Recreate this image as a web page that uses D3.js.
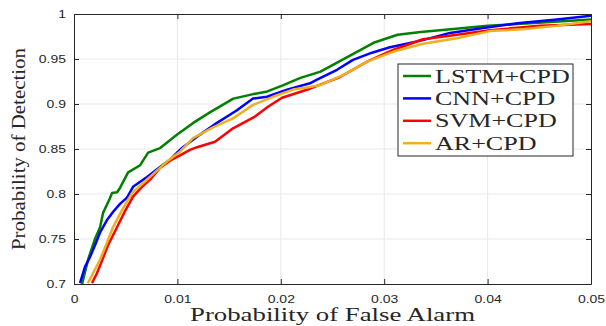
<!DOCTYPE html>
<html>
<head>
<meta charset="utf-8">
<script src="https://cdn.jsdelivr.net/npm/d3@7"></script>
<style>
  html, body { margin: 0; padding: 0; background: #fff; }
  svg { display: block; }
</style>
</head>
<body>
<div id="chart"></div>
<script>
// ROC curves: probability of detection vs probability of false alarm
const seriesNames = ['LSTM+CPD', 'CNN+CPD', 'SVM+CPD', 'AR+CPD'];
const seriesColors = ['#008000', '#0000ff', '#ff0000', '#edb120'];

// [false alarm, detection]
const lstmValues = [
  [0.00078, 0.700], [0.00136, 0.727], [0.00203, 0.750], [0.00252, 0.763], [0.00281, 0.779],
  [0.00339, 0.793], [0.00368, 0.801], [0.00417, 0.802], [0.00446, 0.807], [0.00523, 0.824],
  [0.0064, 0.832], [0.00717, 0.846], [0.00833, 0.851], [0.00998, 0.866], [0.01153, 0.879],
  [0.01318, 0.891], [0.01541, 0.906], [0.01734, 0.911], [0.0187, 0.914], [0.02025, 0.921],
  [0.0219, 0.929], [0.02384, 0.936], [0.02674, 0.954], [0.02897, 0.968], [0.0313, 0.977],
  [0.03353, 0.980], [0.03643, 0.983], [0.04002, 0.987], [0.04448, 0.990], [0.05, 0.994]
];
const cnnValues = [
  [0.00058, 0.701], [0.00106, 0.719], [0.00155, 0.730], [0.00203, 0.743], [0.00251, 0.757],
  [0.00319, 0.771], [0.00377, 0.780], [0.00445, 0.789], [0.00513, 0.796], [0.00571, 0.808],
  [0.00706, 0.819], [0.00832, 0.830], [0.00928, 0.838], [0.01006, 0.847], [0.01054, 0.852],
  [0.01219, 0.866], [0.01383, 0.879], [0.01576, 0.893], [0.01731, 0.906], [0.01867, 0.908],
  [0.0206, 0.916], [0.02282, 0.923], [0.0235, 0.927], [0.02544, 0.938], [0.02698, 0.949],
  [0.02882, 0.957], [0.03056, 0.963], [0.03375, 0.971], [0.03636, 0.979], [0.03926, 0.984],
  [0.04313, 0.990], [0.04671, 0.994], [0.05, 0.998]
];
const svmValues = [
  [0.00174, 0.701], [0.00222, 0.712], [0.00271, 0.726], [0.00329, 0.743], [0.00416, 0.763],
  [0.00493, 0.781], [0.00571, 0.797], [0.00658, 0.808], [0.00735, 0.816], [0.00832, 0.829],
  [0.00928, 0.837], [0.01025, 0.843], [0.01122, 0.849], [0.0119, 0.852], [0.01364, 0.858],
  [0.01538, 0.873], [0.0175, 0.886], [0.01876, 0.897], [0.02012, 0.907], [0.02282, 0.917],
  [0.02573, 0.930], [0.02834, 0.947], [0.03085, 0.960], [0.03375, 0.972], [0.03704, 0.977],
  [0.04023, 0.982], [0.04507, 0.987], [0.05, 0.989]
];
const arValues = [
  [0.00135, 0.701], [0.00184, 0.712], [0.00251, 0.727], [0.00309, 0.743], [0.00377, 0.763],
  [0.00464, 0.782], [0.00561, 0.801], [0.00667, 0.812], [0.00783, 0.824], [0.00899, 0.836],
  [0.01025, 0.847], [0.01151, 0.862], [0.01344, 0.874], [0.01538, 0.884], [0.01731, 0.899],
  [0.01925, 0.908], [0.02118, 0.916], [0.02282, 0.919], [0.02379, 0.921], [0.02602, 0.932],
  [0.02834, 0.947], [0.03085, 0.958], [0.03375, 0.967], [0.03704, 0.973], [0.04023, 0.981],
  [0.04342, 0.983], [0.04671, 0.987], [0.05, 0.992]
];

const xTicks = [0, 0.01, 0.02, 0.03, 0.04, 0.05];
const xTickLabels = ['0', '0.01', '0.02', '0.03', '0.04', '0.05'];
const yTicks = [0.7, 0.75, 0.8, 0.85, 0.9, 0.95, 1];
const yTickLabels = ['0.7', '0.75', '0.8', '0.85', '0.9', '0.95', '1'];

const width = 606, height = 326;
const margin = { top: 14, right: 15, bottom: 42, left: 74 };
const w = width - margin.left - margin.right;
const h = height - margin.top - margin.bottom;

const axisColor = '#262626';
const sans = "'Liberation Sans', Arial, sans-serif";
const serif = "'Liberation Serif', 'Times New Roman', serif";

// the reference looks horizontally stretched, so widen text to match
function stretch(sel, k) {
  sel.each(function () {
    const len = this.getComputedTextLength();
    d3.select(this).attr('textLength', len * k).attr('lengthAdjust', 'spacingAndGlyphs');
  });
}

const svg = d3.select('#chart').append('svg').attr('width', width).attr('height', height);
const g = svg.append('g').attr('transform', `translate(${margin.left},${margin.top})`);

const x = d3.scaleLinear().domain([0, 0.05]).range([0, w]);
const y = d3.scaleLinear().domain([0.7, 1]).range([h, 0]);

// grid
g.append('g')
  .selectAll('line.vgrid')
  .data(xTicks.slice(1, -1))
  .join('line')
  .attr('x1', d => x(d)).attr('x2', d => x(d))
  .attr('y1', 0).attr('y2', h)
  .attr('stroke', '#e8e8e8').attr('stroke-width', 1);

g.append('g')
  .selectAll('line.hgrid')
  .data(yTicks.slice(1, -1))
  .join('line')
  .attr('x1', 0).attr('x2', w)
  .attr('y1', d => y(d)).attr('y2', d => y(d))
  .attr('stroke', '#e8e8e8').attr('stroke-width', 1);

// curves
const allSeries = [lstmValues, cnnValues, svmValues, arValues];
const line = d3.line().x(d => x(d[0])).y(d => y(d[1]));

const plot = g.append('g');
plot.append('defs').append('clipPath').attr('id', 'clip')
  .append('rect').attr('x', 0).attr('y', 0).attr('width', w).attr('height', h);

plot.selectAll('path.curve')
  .data(allSeries)
  .join('path')
  .attr('class', 'curve')
  .attr('clip-path', 'url(#clip)')
  .attr('d', line)
  .attr('fill', 'none')
  .attr('stroke', (d, i) => seriesColors[i])
  .attr('stroke-width', 2.5)
  .attr('stroke-linejoin', 'round');

// axes with inward ticks on all four sides
const fmtX = d => xTickLabels[xTicks.indexOf(d)];
const fmtY = d => yTickLabels[yTicks.indexOf(d)];

const xAxis = g.append('g')
  .attr('transform', `translate(0,${h})`)
  .call(d3.axisBottom(x).tickValues(xTicks).tickFormat(fmtX).tickSizeInner(-5).tickSizeOuter(0).tickPadding(11));
const yAxis = g.append('g')
  .call(d3.axisLeft(y).tickValues(yTicks).tickFormat(fmtY).tickSizeInner(-5).tickSizeOuter(0).tickPadding(13));
g.append('g')
  .call(d3.axisTop(x).tickValues(xTicks).tickFormat('').tickSizeInner(-5).tickSizeOuter(0));
g.append('g')
  .attr('transform', `translate(${w},0)`)
  .call(d3.axisRight(y).tickValues(yTicks).tickFormat('').tickSizeInner(-5).tickSizeOuter(0));

g.selectAll('.domain').attr('stroke', axisColor).attr('stroke-width', 1);
g.selectAll('.tick line').attr('stroke', axisColor).attr('stroke-width', 1);

xAxis.selectAll('.tick text')
  .attr('font-family', sans).attr('font-size', 11).attr('fill', axisColor);
yAxis.selectAll('.tick text')
  .attr('font-family', sans).attr('font-size', 11).attr('fill', axisColor)
  .attr('x', -8);
stretch(xAxis.selectAll('.tick text'), 1.27);
stretch(yAxis.selectAll('.tick text'), 1.27);

// axis titles
const xTitle = svg.append('text')
  .attr('x', margin.left + w / 2).attr('y', 321)
  .attr('text-anchor', 'middle')
  .attr('font-family', serif).attr('font-size', 19).attr('fill', axisColor)
  .text('Probability of False Alarm');
stretch(xTitle, 1.41);

const yTitle = svg.append('text')
  .attr('transform', `translate(25,${margin.top + h / 2}) rotate(-90)`)
  .attr('text-anchor', 'middle')
  .attr('font-family', serif).attr('font-size', 19).attr('fill', axisColor)
  .text('Probability of Detection');
stretch(yTitle, 1.1);

// legend
const legend = svg.append('g').attr('transform', 'translate(398,64)');
legend.append('rect')
  .attr('width', 175).attr('height', 92)
  .attr('fill', '#fff').attr('stroke', axisColor).attr('stroke-width', 1);

const rows = legend.selectAll('g.row')
  .data(seriesNames)
  .join('g')
  .attr('class', 'row')
  .attr('transform', (d, i) => `translate(0,${12 + i * 22.4})`);

rows.append('line')
  .attr('x1', 5).attr('x2', 33)
  .attr('stroke', (d, i) => seriesColors[i]).attr('stroke-width', 2.5);

const labels = rows.append('text')
  .attr('x', 37).attr('y', 6.5)
  .attr('font-family', serif).attr('font-size', 19).attr('fill', axisColor)
  .text(d => d);
stretch(labels, 1.37);
</script>
</body>
</html>
